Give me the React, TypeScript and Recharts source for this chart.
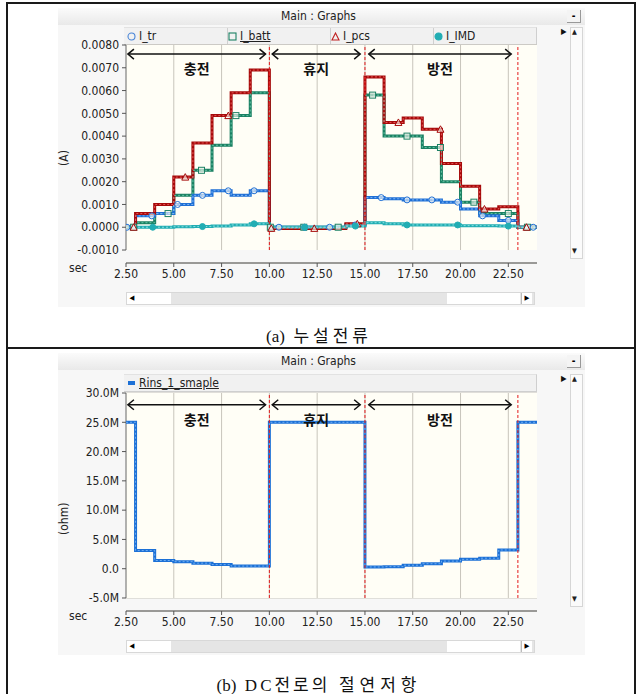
import React from "react";
import {
  LineChart,
  Line,
  XAxis,
  YAxis,
  CartesianGrid,
  ReferenceLine,
  ReferenceArea,
} from "recharts";

// step breakpoints (sec) - each value holds until the next breakpoint
const stepTimes = [2.5, 3, 4, 5, 6, 7, 8, 9, 10, 11, 12, 13, 14, 15, 16, 17, 18, 19, 20, 21, 22, 23, 24];

// leakage currents (A)
const iTr = [0, 0.0005, 0.0006, 0.001, 0.0014, 0.0016, 0.0014, 0.0016, 0, 0, 0, 0, 0.0001, 0.0013, 0.00125, 0.0012, 0.0012, 0.0011, 0.0008, 0.0005, 0.0003, 0, 0];
const iBatt = [0, 0.0002, 0.0006, 0.0014, 0.0025, 0.0036, 0.0049, 0.0059, 0, 0, 0, 0, 0.0001, 0.0058, 0.004, 0.004, 0.0035, 0.002, 0.0011, 0.0006, 0.0006, 0, 0];
const iPcs = [0, 0.0006, 0.001, 0.0022, 0.0037, 0.0049, 0.0059, 0.0069, -0.00005, -0.00005, -0.00005, -0.00005, 0.00015, 0.0066, 0.0046, 0.0048, 0.0043, 0.0028, 0.0018, 0.0008, 0.0009, 0, 0];
const iImd = [0, 0, 0, 0.00002, 0.00003, 0.00005, 0.0001, 0.00015, 0, 0, 0, 0, 0.00005, 0.0002, 0.00015, 0.0001, 0.0001, 0.0001, 0.00007, 0.00007, 0.00005, 0, 0];

// insulation resistance (M ohm)
const rinsM = [25, 3.1, 1.4, 1.2, 0.95, 0.7, 0.45, 0.45, 25, 25, 25, 25, 25, 0.3, 0.35, 0.6, 0.85, 1.3, 1.6, 1.8, 3.2, 25, 25];

// where PSCAD put the series markers
const trMarks = [2.55, 3.85, 5.2, 6.5, 7.85, 9.2, 10.5, 11.85, 13.15, 14.5, 15.85, 17.2, 18.5, 19.85, 21.15, 22.5, 23.8];
const battMarks = [2.9, 4.7, 6.45, 8.25, 10.05, 11.8, 13.6, 15.4, 17.2, 18.95, 20.7, 22.5, 23.5];
const pcsMarks = [2.9, 5.6, 7.85, 10.1, 12.35, 14.6, 16.75, 18.95, 21.25, 23.45];
const imdMarks = [3.9, 6.5, 9.2, 11.85, 14.5, 17.2, 19.85, 22.5];

const xTicks = [2.5, 5, 7.5, 10, 12.5, 15, 17.5, 20, 22.5];
const phaseLines = [10, 15, 23];
const phaseLabels = ["충전", "휴지", "방전"];
const phaseSpans = [
  [2.6, 9.8],
  [10.15, 14.75],
  [15.2, 22.65],
];
const leakTicks = [-0.001, 0, 0.001, 0.002, 0.003, 0.004, 0.005, 0.006, 0.007, 0.008];
const rinsTicks = [-5, 0, 5, 10, 15, 20, 25, 30];

const uiFont = "'DejaVu Sans Condensed', 'Liberation Sans', Arial, sans-serif";
const krFont = "'Noto Sans CJK KR', sans-serif";
const capFont = "'Liberation Serif', 'Noto Sans CJK KR', serif";
const cream = "#fffef6";
const gridColor = "#c8c5bb";

const valueAt = (vals: number[], t: number) => {
  let v = vals[0];
  stepTimes.forEach((s, i) => {
    if (s <= t) v = vals[i];
  });
  return v;
};

const markTimes: Record<string, number[]> = { tr: trMarks, batt: battMarks, pcs: pcsMarks, imd: imdMarks };

const leakTimes = Array.from(new Set([...stepTimes, ...trMarks, ...battMarks, ...pcsMarks, ...imdMarks])).sort((a, b) => a - b);
const leakData = leakTimes.map((t) => ({
  t,
  tr: valueAt(iTr, t),
  batt: valueAt(iBatt, t),
  pcs: valueAt(iPcs, t),
  imd: valueAt(iImd, t),
  marks: Object.keys(markTimes).filter((k) => markTimes[k].includes(t)),
}));
const rinsData = stepTimes.map((t, i) => ({ t, rins: rinsM[i], marks: [] as string[] }));

const leakSeries = [
  { key: "batt", color: "#1b8063", light: "#62c4a4", marker: "square" },
  { key: "tr", color: "#1f6fd5", light: "#7db6f5", marker: "circle" },
  { key: "pcs", color: "#a50a0a", light: "#e85454", marker: "triangle" },
  { key: "imd", color: "#22adb3", light: "#86e2e2", marker: "dot" },
];
const rinsSeries = [{ key: "rins", color: "#1c70d6", light: "#6eaef2", marker: "none" }];

const markerDot = (key: string, color: string, kind: string) => (p: any) => {
  const { cx, cy, payload, index } = p;
  const k = `${key}-${index}`;
  if (kind === "none" || cx == null || !payload.marks.includes(key)) return <g key={k} />;
  if (kind === "circle")
    return <circle key={k} cx={cx} cy={cy} r={3} fill={cream} fillOpacity={0.6} stroke={color} strokeWidth={1} />;
  if (kind === "dot") return <circle key={k} cx={cx} cy={cy} r={3} fill={color} stroke={color} />;
  if (kind === "square")
    return <rect key={k} x={cx - 3} y={cy - 3} width={6} height={6} fill={cream} fillOpacity={0.6} stroke={color} strokeWidth={1} />;
  return (
    <polygon
      key={k}
      points={`${cx},${cy - 3.5} ${cx - 3.5},${cy + 3} ${cx + 3.5},${cy + 3}`}
      fill={cream}
      fillOpacity={0.6}
      stroke={color}
      strokeWidth={1}
    />
  );
};

const arrowShape = (label: string) => (p: any) => {
  const { x1, y1, x2 } = p;
  const y = y1;
  return (
    <g>
      <line x1={x1} y1={y} x2={x2} y2={y} stroke="#111" strokeWidth={1.5} />
      <polyline points={`${x1 + 6},${y - 5} ${x1},${y} ${x1 + 6},${y + 5}`} fill="none" stroke="#111" strokeWidth={1.5} />
      <polyline points={`${x2 - 6},${y - 5} ${x2},${y} ${x2 - 6},${y + 5}`} fill="none" stroke="#111" strokeWidth={1.5} />
      <text x={(x1 + x2) / 2} y={y + 20} textAnchor="middle" fontFamily={krFont} fontWeight="bold" fontSize={14} fill="#111">
        {label}
      </text>
    </g>
  );
};

interface PlotProps {
  top: number;
  data: any[];
  series: { key: string; color: string; light: string; marker: string }[];
  yTicks: number[];
  yMin: number;
  yFmt: (v: number) => string;
  arrowY: number;
}

const Plot: React.FC<PlotProps> = ({ top, data, series, yTicks, yMin, yFmt, arrowY }) => {
  const yLow = yTicks[0];
  const yHigh = yTicks[yTicks.length - 1];
  return (
    <div style={{ position: "absolute", left: 0, top }}>
      <LineChart width={560} height={300} data={data} margin={{ top: 45, right: 23, left: 0, bottom: 7 }}>
        <ReferenceArea x1={2.5} x2={24} y1={yLow} y2={yHigh} fill={cream} fillOpacity={1} stroke="none" />
        <CartesianGrid vertical={false} stroke={gridColor} />
        {xTicks.slice(1).map((x) => (
          <ReferenceLine key={`vg-${x}`} segment={[{ x, y: yLow }, { x, y: yHigh }]} stroke={gridColor} />
        ))}
        <ReferenceLine segment={[{ x: 2.5, y: yLow }, { x: 2.5, y: yHigh }]} stroke="#666" />
        <XAxis
          dataKey="t"
          type="number"
          domain={[2.5, 24]}
          ticks={xTicks}
          tickFormatter={(v) => v.toFixed(2)}
          height={30}
          tickSize={4}
          tickMargin={2}
          stroke="#555"
          tick={{ fill: "#222", fontSize: 12, fontFamily: uiFont }}
          allowDataOverflow
        />
        <YAxis
          type="number"
          domain={[yMin, yHigh]}
          ticks={yTicks}
          tickFormatter={yFmt}
          width={126}
          axisLine={false}
          tickSize={4}
          tickMargin={3}
          tickLine={{ stroke: "#555" }}
          tick={{ fill: "#222", fontSize: 12, fontFamily: uiFont }}
          allowDataOverflow
        />
        {series.map((s) => (
          <Line
            key={`b-${s.key}`}
            type="stepAfter"
            dataKey={s.key}
            stroke={s.color}
            strokeWidth={3}
            dot={false}
            activeDot={false}
            isAnimationActive={false}
          />
        ))}
        {series.map((s) => (
          <Line
            key={`o-${s.key}`}
            type="stepAfter"
            dataKey={s.key}
            stroke={s.light}
            strokeWidth={1}
            strokeDasharray="2 2"
            dot={markerDot(s.key, s.color, s.marker)}
            activeDot={false}
            isAnimationActive={false}
          />
        ))}
        {phaseLines.map((x) => (
          <ReferenceLine
            key={`ph-${x}`}
            segment={[{ x, y: yLow }, { x, y: yHigh }]}
            stroke="#e3191b"
            strokeDasharray="3 2"
          />
        ))}
        {phaseSpans.map((sp, i) => (
          <ReferenceLine
            key={`ar-${i}`}
            segment={[{ x: sp[0], y: arrowY }, { x: sp[1], y: arrowY }]}
            shape={arrowShape(phaseLabels[i])}
          />
        ))}
      </LineChart>
    </div>
  );
};

interface LegendItem {
  label: string;
  icon: React.ReactNode;
  left: number;
  underline?: boolean;
}

interface WindowProps {
  winTop: number;
  winBottom: number;
  legendTop: number;
  axisTop: number;
  legend: LegendItem[];
  separators: number[];
  yTitle: string;
  yTitleY: number;
}

const box = (s: React.CSSProperties): React.CSSProperties => ({ position: "absolute", boxSizing: "border-box", ...s });

const GraphWindow: React.FC<WindowProps> = ({ winTop, winBottom, legendTop, axisTop, legend, separators, yTitle, yTitleY }) => (
  <>
    <div style={box({ left: 58, top: winTop, width: 527, height: winBottom - winTop, background: "#f7f7f7" })} />
    <div
      style={box({
        left: 58,
        top: winTop,
        width: 527,
        height: 17,
        background: "linear-gradient(#fbfbfb, #e9e9e9)",
        fontFamily: uiFont,
        fontSize: 12,
        color: "#222",
        textAlign: "center",
        lineHeight: "17px",
        paddingRight: 6,
      })}
    >
      Main : Graphs
    </div>
    <div
      style={box({
        left: 567,
        top: winTop + 2,
        width: 14,
        height: 13,
        borderRight: "1px solid #999",
        borderBottom: "1px solid #999",
        background: "#f4f4f4",
        fontSize: 10,
        lineHeight: "12px",
        textAlign: "center",
        fontFamily: uiFont,
        fontWeight: "bold",
      })}
    >
      -
    </div>
    <div
      style={box({
        left: 124,
        top: legendTop,
        width: 413,
        height: 18,
        background: "#f1f1f1",
        borderTop: "1px solid #e2e2e2",
        borderBottom: "1px solid #cfcfcf",
        borderRight: "1px solid #cfcfcf",
      })}
    />
    {separators.map((x) => (
      <div key={x} style={box({ left: x, top: legendTop + 1, width: 1, height: 16, background: "#cfcfcf" })} />
    ))}
    {legend.map((it) => (
      <div
        key={it.label}
        style={box({
          left: it.left,
          top: legendTop + 1,
          height: 16,
          display: "flex",
          alignItems: "center",
          gap: 3,
          fontFamily: uiFont,
          fontSize: 12,
          color: "#222",
          whiteSpace: "nowrap",
        })}
      >
        {it.icon}
        <span style={{ textDecoration: it.underline ? "underline" : "none" }}>{it.label}</span>
      </div>
    ))}
    <div style={box({ left: 561, top: legendTop, fontSize: 8, fontFamily: uiFont, color: "#111" })}>▶</div>
    <div
      style={box({
        left: 570,
        top: legendTop,
        width: 13,
        height: axisTop - legendTop - 4,
        background: "#fbfbfb",
        border: "1px solid #d6d6d6",
      })}
    />
    <div style={box({ left: 572, top: legendTop + 1, fontSize: 7, fontFamily: uiFont, color: "#222" })}>▲</div>
    <div style={box({ left: 572, top: axisTop - 16, fontSize: 7, fontFamily: uiFont, color: "#222" })}>▼</div>
    <div
      style={box({
        left: 50,
        top: yTitleY - 8,
        width: 30,
        height: 16,
        transform: "rotate(-90deg)",
        fontFamily: uiFont,
        fontSize: 12,
        color: "#222",
        textAlign: "center",
      })}
    >
      {yTitle}
    </div>
    <div style={box({ left: 69, top: axisTop - 2, fontFamily: uiFont, fontSize: 12, color: "#222" })}>sec</div>
    <div style={box({ left: 126, top: axisTop + 29, width: 409, height: 13, background: "#e5e5e5", border: "1px solid #d8d8d8" })} />
    <div style={box({ left: 127, top: axisTop + 30, width: 10, height: 11, background: "#fff", fontSize: 7, lineHeight: "11px", textAlign: "center", fontFamily: uiFont })}>◀</div>
    <div style={box({ left: 137, top: axisTop + 30, width: 34, height: 11, background: "#fff" })} />
    <div style={box({ left: 447, top: axisTop + 30, width: 73, height: 11, background: "#fff" })} />
    <div style={box({ left: 521, top: axisTop + 30, width: 11, height: 11, background: "#fff", borderLeft: "1px solid #bbb", fontSize: 7, lineHeight: "11px", textAlign: "center", fontFamily: uiFont })}>▶</div>
  </>
);

const Circle = ({ color, fill }: { color: string; fill?: boolean }) => (
  <svg width={9} height={9}>
    <circle cx={4.5} cy={4.5} r={3.5} fill={fill ? color : "none"} stroke={color} strokeWidth={1.1} />
  </svg>
);
const Square = ({ color }: { color: string }) => (
  <svg width={9} height={9}>
    <rect x={1} y={1} width={7} height={7} fill="none" stroke={color} strokeWidth={1.1} />
  </svg>
);
const Triangle = ({ color }: { color: string }) => (
  <svg width={9} height={9}>
    <polygon points="4.5,1 1,8 8,8" fill="none" stroke={color} strokeWidth={1.1} />
  </svg>
);
const Bar = ({ color }: { color: string }) => (
  <svg width={8} height={9}>
    <rect x={0} y={2} width={7} height={4} fill={color} />
  </svg>
);

const capStyle = (top: number): React.CSSProperties =>
  box({ left: 0, top, width: 638, textAlign: "center", fontFamily: capFont, fontSize: 17, color: "#111", whiteSpace: "pre" });

const App: React.FC = () => {
  const leakLegend: LegendItem[] = [
    { label: "I_tr", icon: <Circle color="#4a86d8" />, left: 127 },
    { label: "I_batt", icon: <Square color="#1b8063" />, left: 228, underline: true },
    { label: "I_pcs", icon: <Triangle color="#c02020" />, left: 331 },
    { label: "I_IMD", icon: <Circle color="#22adb3" fill />, left: 434 },
  ];
  const rinsLegend: LegendItem[] = [{ label: "Rins_1_smaple", icon: <Bar color="#1c70d6" />, left: 128, underline: true }];

  return (
    <div style={{ position: "absolute", left: 0, top: 0, width: 638, height: 694, background: "#fff", overflow: "hidden" }}>
      {/* outer frame */}
      <div style={box({ left: 6, top: 2, width: 630, height: 700, border: "2px solid #1a1a1a" })} />
      <div style={box({ left: 6, top: 347, width: 630, height: 2, background: "#1a1a1a" })} />

      <GraphWindow
        winTop={8}
        winBottom={307}
        legendTop={27}
        axisTop={263}
        legend={leakLegend}
        separators={[227, 330, 433]}
        yTitle="(A)"
        yTitleY={158}
      />
      <Plot
        top={0}
        data={leakData}
        series={leakSeries}
        yTicks={leakTicks}
        yMin={-0.00157}
        yFmt={(v) => v.toFixed(4)}
        arrowY={0.0076}
      />
      <div style={capStyle(322)}>
        (a)  <span style={{ letterSpacing: 4 }}>누설전류</span>
      </div>

      <GraphWindow
        winTop={353}
        winBottom={655}
        legendTop={374}
        axisTop={611}
        legend={rinsLegend}
        separators={[]}
        yTitle="(ohm)"
        yTitleY={520}
      />
      <Plot
        top={348}
        data={rinsData}
        series={rinsSeries}
        yTicks={rinsTicks}
        yMin={-7.22}
        yFmt={(v) => (v === 0 ? "0.0" : `${v.toFixed(1)}M`)}
        arrowY={28}
      />
      <div style={capStyle(671)}>
        (b)  <span style={{ letterSpacing: 3 }}>DC전로의</span>  <span style={{ letterSpacing: 5 }}>절연저항</span>
      </div>
    </div>
  );
};

export default App;
